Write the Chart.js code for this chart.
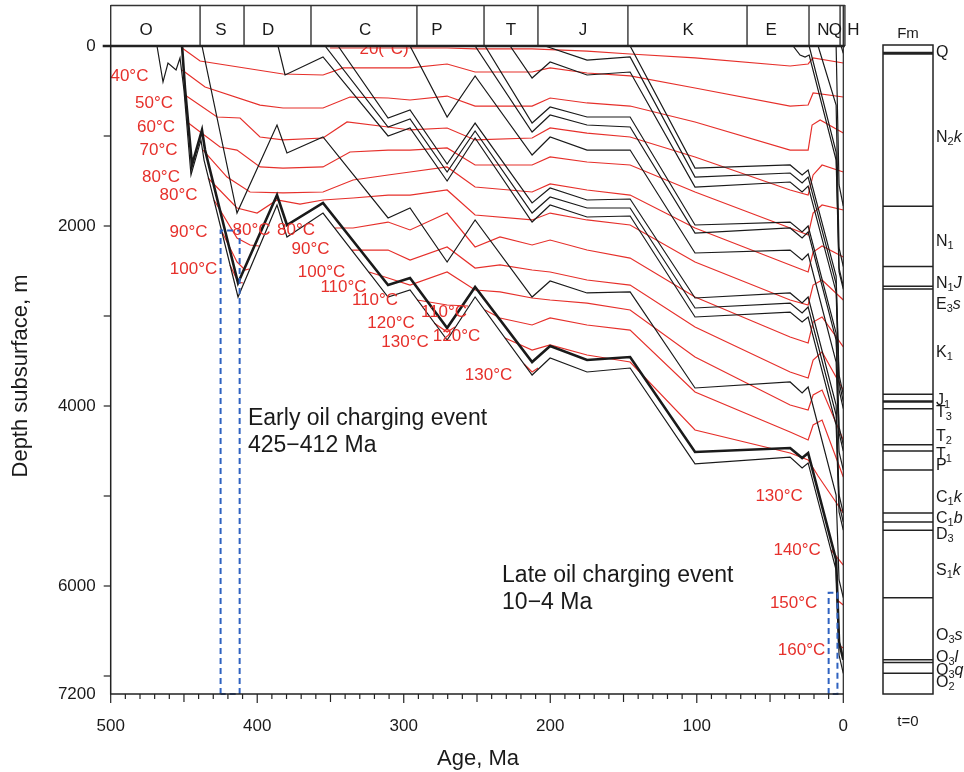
<!DOCTYPE html>
<html>
<head>
<meta charset="utf-8">
<title>Burial history</title>
<script src="https://cdn.jsdelivr.net/npm/chart.js@4.4.1/dist/chart.umd.min.js"></script>
<style>
  html, body { margin: 0; padding: 0; background: #fff; }
  canvas { display: block; }
</style>
</head>
<body>
<canvas id="burial" width="964" height="772"></canvas>
<script>
const FONT = '"Liberation Sans", Arial, Helvetica, sans-serif';
const RED = '#e6302b';
const INK = '#1a1a1a';
const BLUE = '#2f62c0';

// periods in the top band (Ma)
const periodNames = ['O', 'S', 'D', 'C', 'P', 'T', 'J', 'K', 'E', 'N', 'Q', 'H'];
const periodLabelAge = [475.9, 424.7, 392.6, 326.4, 277.3, 226.8, 177.6, 105.9, 49.3, 13.6, 5.4, -6.9];
const periodBounds = [500, 439, 409, 363.3, 291, 245.2, 208.4, 147, 65.7, 23.4, 2.2, 0, -1.1];

// burial curves of the horizons : [age Ma, depth m]
const hO3q = [[468.4,0],[464.3,400],[460.9,189],[455.4,267],[452.7,133],[450.0,489],[445.2,1433],[438.4,1044],[436.3,1267],[413.1,2789],[386.5,1767],[379.7,2122],[355.1,1856],[310.7,2789],[295.7,2711],[270.4,3267],[251.3,2789],[212.4,3656],[200.1,3467],[174.9,3622],[145.5,3578],[101.2,4644],[36.3,4567],[28.1,4689],[24.0,4633],[4.9,5822],[2.9,6767],[0,6970]];
const hO3s = [[451.3,0],[449.3,467],[444.5,1322],[437.7,933],[435.6,1156],[413.1,2633],[386.5,1656],[379.7,1989],[355.1,1744],[310.7,2656],[295.7,2578],[270.4,3133],[251.3,2678],[212.4,3511],[200.1,3333],[174.9,3489],[145.5,3456],[101.2,4511],[36.3,4467],[28.1,4578],[24.0,4522],[4.9,5711],[2.9,6622],[0,6820]];
const hS1k = [[437.7,0],[413.8,1856],[386.5,878],[379.7,1189],[355.1,1011],[310.7,1911],[295.7,1800],[270.4,2400],[251.3,1933],[212.4,2789],[200.1,2611],[174.9,2744],[145.5,2733],[101.2,3800],[36.3,3733],[28.1,3856],[24.0,3789],[4.9,4989],[2.9,5933],[0,6130]];
const hD3 = [[385.8,0],[381.0,322],[355.1,122],[310.7,1000],[295.7,911],[270.4,1500],[251.3,1022],[212.4,1956],[200.1,1767],[174.9,1900],[145.5,1889],[101.2,3011],[36.3,2956],[28.1,3067],[24.0,3011],[4.9,4211],[2.9,5178],[0,5380]];
const hC1b = [[353.7,0],[310.7,900],[295.7,811],[270.4,1400],[251.3,944],[212.4,1856],[200.1,1678],[174.9,1800],[145.5,1800],[101.2,2911],[36.3,2856],[28.1,2967],[24.0,2900],[4.9,4100],[2.9,5089],[0,5290]];
const hC1k = [[344.8,0],[310.7,800],[295.7,711],[270.4,1311],[251.3,856],[212.4,1744],[200.1,1578],[174.9,1711],[145.5,1700],[101.2,2800],[36.3,2744],[28.1,2856],[24.0,2789],[4.9,3989],[2.9,4989],[0,5190]];
const hP = [[295.7,0],[270.4,789],[251.3,333],[212.4,1211],[200.1,1011],[174.9,1156],[145.5,1156],[101.2,2300],[36.3,2267],[28.1,2378],[24.0,2311],[4.9,3511],[2.9,4511],[0,4710]];
const hT1 = [[251.3,0],[212.4,956],[200.1,767],[174.9,878],[145.5,900],[101.2,2078],[36.3,2022],[28.1,2133],[24.0,2067],[4.9,3267],[2.9,4300],[0,4500]];
const hT2 = [[244.5,0],[212.4,856],[200.1,678],[174.9,789],[145.5,789],[101.2,1989],[36.3,1956],[28.1,2067],[24.0,2000],[4.9,3189],[2.9,4233],[0,4430]];
const hT3 = [[227.4,0],[212.4,356],[200.1,178],[174.9,322],[145.5,289],[101.2,1567],[36.3,1511],[28.1,1622],[24.0,1556],[4.9,2733],[2.9,3822],[0,4030]];
const hJ1 = [[203.6,0],[174.9,156],[145.5,122],[101.2,1456],[36.3,1411],[28.1,1522],[24.0,1456],[4.9,2644],[2.9,3733],[0,3950]];
const hK1 = [[145.5,0],[101.2,1356],[36.3,1322],[28.1,1433],[24.0,1378],[4.9,2556],[2.9,3656],[0,3870]];
const hE3s = [[34.3,0],[29.5,100],[26.1,122],[23.3,100],[4.9,1267],[2.9,2511],[0,2700]];
const hN1J = [[23.3,0],[4.9,1178],[2.9,2467],[0,2670]];
const hN1 = [[17.2,0],[4.9,656],[2.9,2244],[0,2450]];
const hN2k = [[4.9,0],[2.9,1544],[0,1780]];
const hQ = [[1.5,0],[0,80]];

// isotherms (pieces split where they leave the sediment column)
const iso20 = [[350.3,22],[270.4,22],[251.3,33],[212.4,33],[174.9,56],[145.5,89],[101.2,133],[36.3,222],[24.0,200],[20.6,133],[0,189]];
const iso30 = [[451.3,22],[439.0,167],[382.4,311],[355.1,322],[341.4,244],[310.7,244],[295.7,244],[270.4,200],[251.3,289],[212.4,289],[200.1,244],[174.9,300],[145.5,333],[101.2,467],[36.3,667],[24.0,656],[20.6,522],[0,567]];
const iso40 = [[451.3,267],[435.6,456],[398.1,656],[382.4,689],[355.1,689],[336.7,567],[310.7,578],[295.7,600],[270.4,556],[251.3,667],[212.4,667],[200.1,578],[174.9,633],[145.5,667],[101.2,844],[36.3,1156],[24.0,1156],[21.3,878],[15.8,822],[0,967]];
const iso50 = [[449.3,544],[427.4,789],[411.7,800],[398.1,1011],[382.4,1044],[355.1,1022],[338.7,844],[310.7,900],[295.7,933],[270.4,911],[251.3,1044],[212.4,1022],[200.1,911],[174.9,967],[145.5,1011],[101.2,1233],[36.3,1600],[24.0,1656],[20.6,1433],[14.5,1322],[0,1400]];
const iso60 = [[447.9,844],[425.4,1122],[413.8,1156],[398.1,1344],[382.4,1356],[355.1,1344],[336.7,1178],[310.7,1156],[295.7,1156],[270.4,1133],[251.3,1322],[212.4,1322],[200.1,1233],[174.9,1289],[145.5,1322],[101.2,1622],[36.3,2022],[24.0,2100],[20.6,1856],[14.5,1767],[0,1822]];
const iso70 = [[437.0,1156],[420.6,1456],[404.9,1622],[382.4,1633],[355.1,1622],[334.6,1489],[310.7,1433],[295.7,1400],[270.4,1344],[251.3,1567],[212.4,1622],[200.1,1533],[174.9,1600],[145.5,1656],[101.2,2022],[36.3,2433],[24.0,2511],[20.6,2289],[14.5,2222],[0,2344]];
const iso80 = [[433.6,1467],[413.8,1800],[400.1,1856],[386.5,1711],[370.8,1756],[355.1,1711],[334.6,1689],[310.7,1656],[295.7,1656],[270.4,1600],[251.3,1878],[212.4,1933],[200.1,1856],[174.9,1933],[145.5,1989],[101.2,2400],[36.3,2822],[24.0,2878],[20.6,2656],[14.5,2600],[0,2822]];
const iso90a = [[429.5,1711],[413.8,2133],[404.9,2211],[398.8,2222]];
const iso90b = [[346.9,2022],[334.6,2022],[310.7,1956],[295.7,2044],[270.4,1856],[251.3,2233],[234.3,2122],[212.4,2211],[200.1,2156],[174.9,2267],[145.5,2356],[101.2,2789],[36.3,3233],[24.0,3300],[20.6,3067],[14.5,3011],[0,3344]];
const iso100a = [[424.0,2067],[413.8,2400],[408.3,2489],[405.6,2478]];
const iso100b = [[335.3,2267],[310.7,2267],[295.7,2378],[270.4,2233],[251.3,2467],[234.3,2433],[212.4,2489],[200.1,2511],[174.9,2600],[145.5,2656],[101.2,3122],[36.3,3622],[24.0,3689],[20.6,3489],[14.5,3400],[0,3822]];
const iso110a = [[418.6,2433],[413.1,2622],[409.7,2633]];
const iso110b = [[323.7,2511],[310.7,2578],[295.7,2656],[270.4,2511],[251.3,2711],[234.3,2733],[212.4,2800],[200.1,2822],[174.9,2856],[145.5,2933],[101.2,3456],[36.3,3989],[24.0,4044],[20.6,3878],[14.5,3822],[0,4378]];
const iso120a = [[290.9,2822],[270.4,2878],[256.1,2889]];
const iso120b = [[244.5,2933],[234.3,3022],[212.4,3100],[200.1,3022],[174.9,3100],[145.5,3156],[101.2,3844],[36.3,4289],[24.0,4378],[20.6,4211],[14.5,4156],[0,4789]];
const iso130a = [[279.3,3078],[270.4,3178],[265.0,3122]];
const iso130b = [[230.9,3244],[212.4,3378],[200.1,3322],[174.9,3433],[145.5,3511],[101.2,4267],[36.3,4522],[24.0,4600],[17.2,4778],[0,5189]];
const iso140a = [[217.9,3533],[212.4,3622],[208.3,3578]];
const iso140b = [[8.3,5600],[0,5767]];
const iso150 = [[4.2,6156],[0,6211]];
const iso160 = [[3.5,6656],[0,6689]];

// temperature labels
const isoLabelText = ['20(°C)', '40°C', '50°C', '60°C', '70°C', '80°C', '80°C', '90°C', '100°C', '80°C', '80°C', '90°C', '100°C', '110°C', '110°C', '120°C', '130°C', '110°C', '120°C', '130°C', '130°C', '140°C', '150°C', '160°C'];
const isoLabelAge = [313.4, 487.2, 470.4, 469.1, 467.4, 465.7, 453.7, 446.9, 443.5, 403.9, 373.5, 363.6, 356.1, 341.1, 319.6, 308.7, 299.1, 272.5, 264.0, 242.1, 43.8, 31.5, 33.9, 28.5];
const isoLabelDepth = [40, 339, 639, 900, 1156, 1456, 1656, 2067, 2478, 2044, 2044, 2256, 2511, 2678, 2822, 3078, 3289, 2956, 3222, 3656, 5000, 5600, 6189, 6711];

// oil charging windows
const chargeAgeOld = [425, 10];
const chargeAgeYoung = [412, 4];
const chargeTopDepth = [2050, 6075];
const noteText = ['Early oil charging event', '425\u2212412 Ma', 'Late oil charging event', '10\u22124 Ma'];
const noteAge = [406.3, 406.3, 232.9, 232.9];
const noteDepth = [4144, 4444, 5889, 6189];

// formation column at t=0
const fmNames = ['Q', 'N2k', 'N1', 'N1J', 'E3s', 'K1', 'J1', 'T3', 'T2', 'T1', 'P', 'C1k', 'C1b', 'D3', 'S1k', 'O3s', 'O3l', 'O3q', 'O2'];
const fmBase = [80, 1780, 2450, 2670, 2700, 3870, 3950, 4030, 4430, 4500, 4710, 5190, 5290, 5380, 6130, 6820, 6850, 6970, 7200];
const fmLabelDepth = [78, 1022, 2178, 2644, 2878, 3411, 3944, 4078, 4344, 4544, 4667, 5022, 5256, 5433, 5833, 6556, 6800, 6944, 7078];

// axis ticks
const xTickLabels = [500, 400, 300, 200, 100, 0];
const yTickLabels = [0, 2000, 4000, 6000, 7200];

const horizons = [hQ, hN2k, hN1, hN1J, hE3s, hK1, hJ1, hT3, hT2, hT1, hP, hC1k, hC1b, hD3, hS1k, hO3s, hO3q];
const isotherms = [iso20, iso30, iso40, iso50, iso60, iso70, iso80, iso90a, iso90b, iso100a, iso100b, iso110a, iso110b,
  iso120a, iso120b, iso130a, iso130b, iso140a, iso140b, iso150, iso160];

const toXY = arr => arr.map(([a, d]) => ({ x: a, y: d }));

const datasets = [];
// blue dashed boxes on top
chargeAgeOld.forEach((a, i) => {
  const b = chargeAgeYoung[i], t = chargeTopDepth[i];
  datasets.push({
    data: toXY([[a, 7200], [a, t], [b, t], [b, 7200], [a, 7200]]),
    borderColor: BLUE, borderWidth: 2, borderDash: [6, 4], clip: false
  });
});
horizons.forEach(h => datasets.push({ data: toXY(h), borderColor: INK, borderWidth: h === hO3s ? 2.6 : 1.2 }));
isotherms.forEach(t => datasets.push({ data: toXY(t), borderColor: RED, borderWidth: 1.2 }));

function line(ctx, x1, y1, x2, y2) {
  ctx.beginPath(); ctx.moveTo(x1, y1); ctx.lineTo(x2, y2); ctx.stroke();
}

// N2k -> N, subscript 2, italic k
function drawFmLabel(ctx, name, x0, yMid) {
  const m = name.slice(1).match(/^(\d*)(.*)$/);
  const parts = [[name[0], 'n']];
  if (m[1]) parts.push([m[1], 's']);
  if (m[2]) parts.push([m[2], 'i']);
  let x = x0;
  for (const [t, k] of parts) {
    ctx.font = k === 's' ? '11px ' + FONT : (k === 'i' ? 'italic 16px ' : '16px ') + FONT;
    ctx.fillText(t, x, yMid + (k === 's' ? 4 : 0));
    x += ctx.measureText(t).width;
  }
}

const overlay = {
  id: 'overlay',
  afterDatasetsDraw(chart) {
    const { ctx, scales: { x, y } } = chart;
    ctx.save();
    ctx.fillStyle = RED;
    ctx.font = '17px ' + FONT;
    ctx.textAlign = 'center';
    ctx.textBaseline = 'middle';
    isoLabelText.forEach((t, i) => ctx.fillText(t, x.getPixelForValue(isoLabelAge[i]), y.getPixelForValue(isoLabelDepth[i])));

    ctx.fillStyle = INK;
    ctx.font = '23px ' + FONT;
    ctx.textAlign = 'left';
    noteText.forEach((t, i) => ctx.fillText(t, x.getPixelForValue(noteAge[i]), y.getPixelForValue(noteDepth[i])));
    ctx.restore();
  },
  afterDraw(chart) {
    const { ctx, chartArea: { left, top, bottom }, scales: { x, y } } = chart;
    const right0 = x.getPixelForValue(0);
    const bandRight = x.getPixelForValue(periodBounds[periodBounds.length - 1]);
    ctx.save();

    // period band (also hides the top of the 20(°C) label)
    ctx.fillStyle = '#fff';
    ctx.fillRect(left - 8, 0, bandRight - left + 10, top);
    ctx.strokeStyle = '#333';
    ctx.lineWidth = 1.4;
    line(ctx, left, 5.5, bandRight, 5.5);
    periodBounds.forEach(a => {
      const px = x.getPixelForValue(a);
      line(ctx, px, 5, px, top);
    });
    ctx.lineWidth = 2.6;
    ctx.strokeStyle = '#222';
    line(ctx, left - 8, top, bandRight, top);
    ctx.fillStyle = INK;
    ctx.font = '17px ' + FONT;
    ctx.textAlign = 'center';
    ctx.textBaseline = 'middle';
    periodNames.forEach((n, i) => ctx.fillText(n, x.getPixelForValue(periodLabelAge[i]), 30));

    // axes and ticks
    ctx.strokeStyle = '#222';
    ctx.lineWidth = 1.5;
    ctx.beginPath();
    ctx.moveTo(left, top); ctx.lineTo(left, bottom); ctx.lineTo(right0, bottom);
    ctx.stroke();
    ctx.lineWidth = 1.2;
    line(ctx, right0, top, right0, bottom);
    for (let v = 0; v <= 500; v += 10) {
      const px = x.getPixelForValue(v);
      const len = v % 100 === 0 ? 9 : (v % 50 === 0 ? 8 : 5);
      line(ctx, px, bottom, px, bottom + len);
    }
    for (let v = 0; v <= 7000; v += 1000) {
      const py = y.getPixelForValue(v);
      line(ctx, left - 7, py, left, py);
    }

    // axis titles
    ctx.fillStyle = INK;
    ctx.font = '22px ' + FONT;
    ctx.fillText('Age, Ma', 478, 759);
    ctx.save();
    ctx.translate(21, 376);
    ctx.rotate(-Math.PI / 2);
    ctx.fillText('Depth subsurface, m', 0, 0);
    ctx.restore();

    // formation column
    const cx0 = 883, cx1 = 933;
    const cTop = y.getPixelForValue(0) - 1;
    const cBot = y.getPixelForValue(7200);
    ctx.strokeStyle = '#222';
    ctx.lineWidth = 1.5;
    ctx.strokeRect(cx0, cTop, cx1 - cx0, cBot - cTop);
    fmBase.forEach((d, i) => {
      if (d >= 7200) return;
      const n = fmNames[i];
      ctx.lineWidth = n === 'Q' ? 3 : (n === 'J1' ? 2.4 : 1.5);
      const py = y.getPixelForValue(d);
      line(ctx, cx0, py, cx1, py);
    });
    ctx.font = '15px ' + FONT;
    ctx.textAlign = 'center';
    ctx.fillText('Fm', 908, 34);
    ctx.fillText('t=0', 908, 722);
    ctx.textAlign = 'left';
    fmNames.forEach((n, i) => drawFmLabel(ctx, n, 936, y.getPixelForValue(fmLabelDepth[i])));

    ctx.restore();
  }
};

new Chart(document.getElementById('burial').getContext('2d'), {
  type: 'line',
  data: { datasets },
  options: {
    responsive: false,
    animation: false,
    layout: { padding: { top: 46, right: 120.7, left: 0, bottom: 0 } },
    elements: { point: { radius: 0 }, line: { tension: 0, fill: false } },
    plugins: { legend: { display: false }, tooltip: { enabled: false } },
    scales: {
      x: {
        type: 'linear', reverse: true, min: 0, max: 500,
        afterFit: s => { s.height = 78; },
        afterBuildTicks: s => { s.ticks = xTickLabels.map(v => ({ value: v })); },
        grid: { display: false, drawTicks: false },
        border: { display: false },
        ticks: { padding: 22, color: INK, font: { family: FONT, size: 17 }, maxRotation: 0, autoSkip: false, callback: v => String(v) }
      },
      y: {
        type: 'linear', reverse: true, min: 0, max: 7200,
        afterFit: s => { s.width = 110.7; },
        afterBuildTicks: s => { s.ticks = yTickLabels.map(v => ({ value: v })); },
        grid: { display: false, drawTicks: false },
        border: { display: false },
        ticks: { padding: 15, color: INK, font: { family: FONT, size: 17 }, autoSkip: false, callback: v => String(v) }
      }
    }
  },
  plugins: [overlay]
});
</script>
</body>
</html>
